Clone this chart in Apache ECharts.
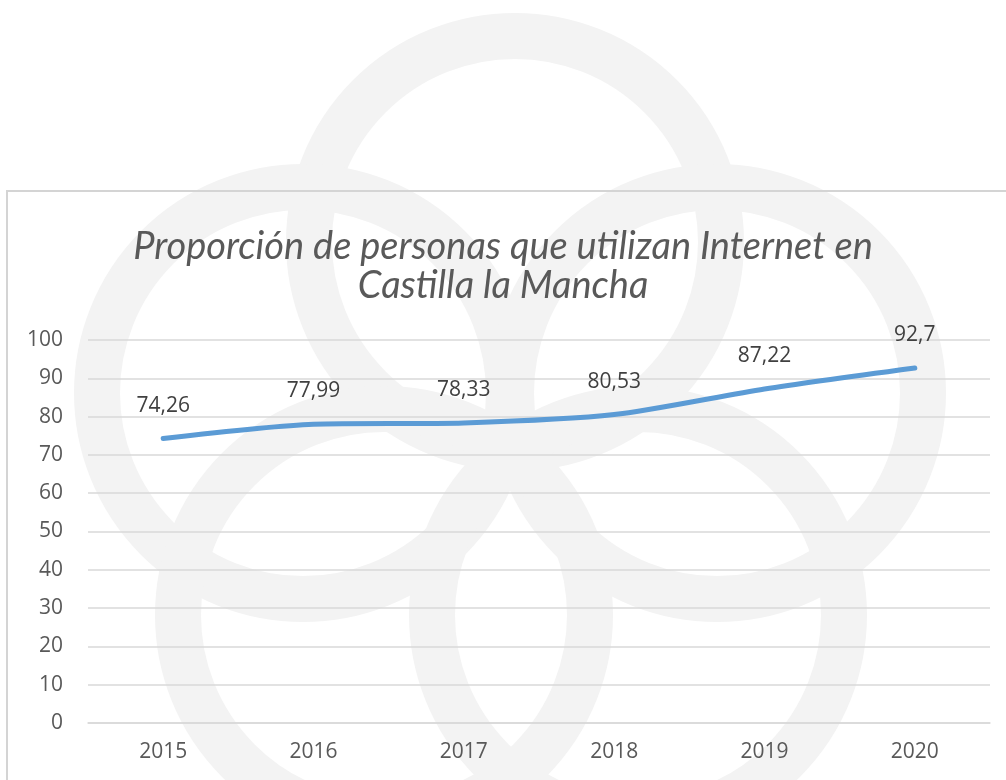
<!DOCTYPE html>
<html>
<head>
<meta charset="utf-8">
<script src="https://cdn.jsdelivr.net/npm/echarts@6/dist/echarts.min.js"></script>
<style>
html,body{margin:0;padding:0;background:#fff;}
#chart{width:1006px;height:780px;}
</style>
</head>
<body>
<div id="chart"></div>
<script>
// ---- data ----
const titleLines = ['Proporción de personas que utilizan Internet en', 'Castilla la Mancha'];
const years = ['2015', '2016', '2017', '2018', '2019', '2020'];
const internetUse = [74.26, 77.99, 78.33, 80.53, 87.22, 92.7];
const yMin = 0, yMax = 100, yStep = 10;

// ---- decorative watermark (background logo rings) ----
const ringCenters = [[515, 242], [303, 393], [717, 393], [384, 615], [638, 615]];
const ringGraphics = ringCenters.map(c => ({
  type: 'circle', silent: true, z: -20,
  shape: { cx: c[0], cy: c[1], r: 206 },
  style: { fill: 'none', stroke: '#f3f3f3', lineWidth: 46 }
}));

const chart = echarts.init(document.getElementById('chart'), null, { renderer: 'canvas' });
chart.setOption({
  backgroundColor: '#ffffff',
  animation: false,
  graphic: ringGraphics.concat([{
    type: 'rect', silent: true, z: -10,
    shape: { x: 7, y: 191, width: 1030, height: 640 },
    style: { fill: 'none', stroke: '#d4d4d4', lineWidth: 2 }
  }]),
  title: {
    text: titleLines.join('\n'),
    left: 'center',
    top: 222,
    textStyle: {
      fontFamily: 'Lato', fontStyle: 'italic', fontWeight: 'normal',
      fontSize: 38, lineHeight: 39, color: '#595959'
    }
  },
  grid: { left: 88, right: 16, top: 340, bottom: 57 },
  xAxis: {
    type: 'category',
    data: years,
    boundaryGap: true,
    axisLine: { show: true, lineStyle: { color: '#d9d9d9', width: 1.5 } },
    axisTick: { show: false },
    axisLabel: { margin: 19, color: '#595959', fontSize: 21, fontFamily: 'Open Sans' }
  },
  yAxis: {
    type: 'value',
    min: yMin, max: yMax, interval: yStep,
    axisLine: { show: false },
    axisTick: { show: false },
    splitLine: { lineStyle: { color: '#d9d9d9', width: 1.5 } },
    axisLabel: { margin: 25, color: '#595959', fontSize: 21, fontFamily: 'Open Sans' }
  },
  series: [{
    type: 'line',
    data: internetUse,
    smooth: 0.25,
    showSymbol: true,
    symbol: 'circle',
    symbolSize: 1,
    itemStyle: { color: 'rgba(91,155,213,0)' },
    lineStyle: { color: '#5b9bd5', width: 5, cap: 'round', join: 'round' },
    label: {
      show: true, position: 'top', distance: 22,
      color: '#404040', fontSize: 21, fontFamily: 'Open Sans',
      formatter: p => String(p.value).replace('.', ',')
    }
  }]
});
</script>
</body>
</html>
